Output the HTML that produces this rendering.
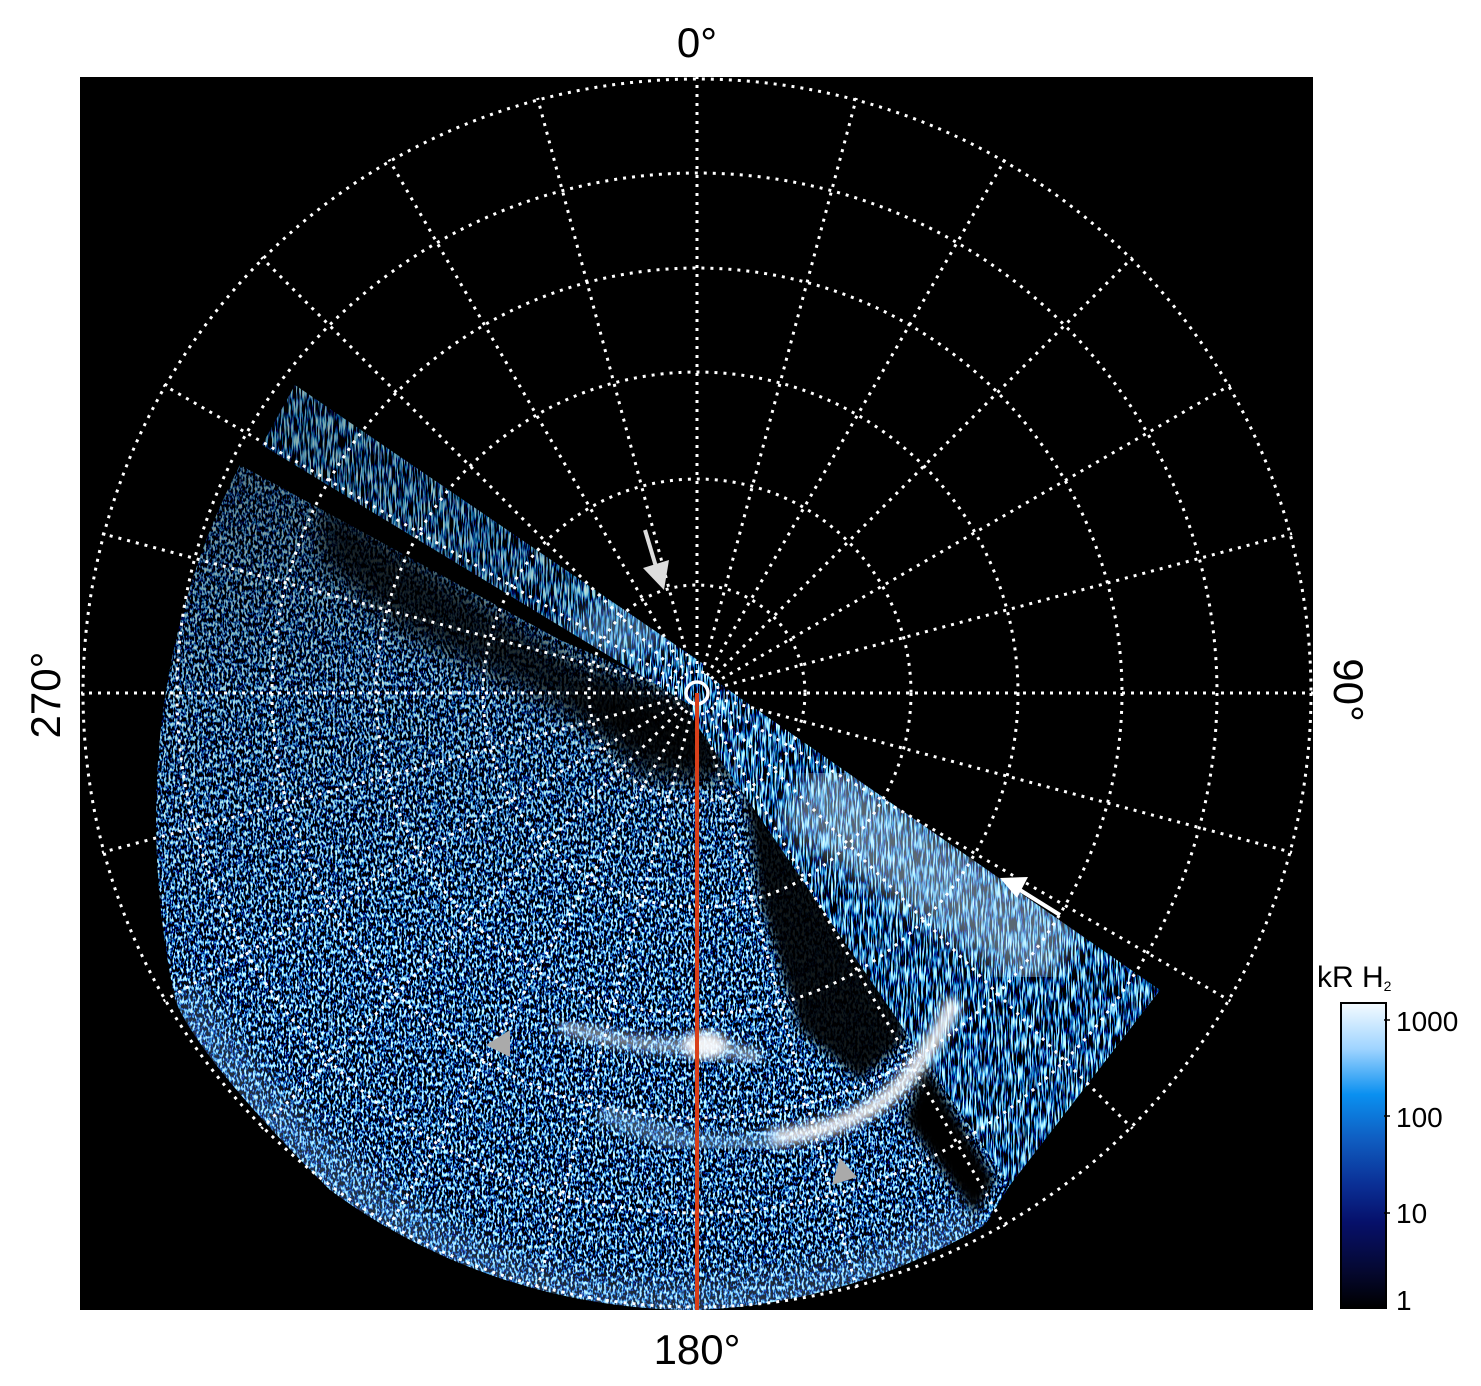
<!DOCTYPE html>
<html><head><meta charset="utf-8"><style>
html,body{margin:0;padding:0;background:#fff;}
svg{display:block;}
text{font-family:"Liberation Sans",Arial,sans-serif;fill:#000;}
</style></head><body>
<svg width="1481" height="1386" viewBox="0 0 1481 1386" xmlns="http://www.w3.org/2000/svg">
<defs>
<filter id="nz" x="0" y="0" width="100%" height="100%">
<feTurbulence type="fractalNoise" baseFrequency="0.45 0.22" numOctaves="2" seed="3"/>
<feColorMatrix type="matrix" values="3 0 0 0 -1.6  5 0 0 0 -2.45  6 0 0 0 -2.65  0 0 0 0 1"/>
</filter>
<filter id="nz2" x="0" y="0" width="100%" height="100%">
<feTurbulence type="fractalNoise" baseFrequency="0.6 0.06" numOctaves="2" seed="7"/>
<feColorMatrix type="matrix" values="3 0 0 0 -1.6  5 0 0 0 -2.4  6 0 0 0 -2.6  0 0 0 0 1"/>
</filter>
<filter id="bl"><feGaussianBlur stdDeviation="12"/></filter>
<filter id="bl2"><feGaussianBlur stdDeviation="5"/></filter>
<clipPath id="sq"><rect x="80" y="77" width="1233" height="1233"/></clipPath>
<clipPath id="lower">
<path d="M240,465 L560,640 L700,700 L1160,990 L1010,1185 L985,1225 A617,617 0 0 1 697,1310 A617,617 0 0 1 330,1190 Q200,1060 175,1000 Q150,880 158,760 Q170,600 240,465 Z"/>
</clipPath>
<clipPath id="bandL"><path d="M295,385 L705,665 L690,705 L262,445 Z"/></clipPath>
<clipPath id="bandR"><path d="M700,670 L1160,990 L1010,1185 L690,715 Z"/></clipPath>
<linearGradient id="cb" x1="0" y1="0" x2="0" y2="1">
<stop offset="0" stop-color="#f4fbff"/>
<stop offset="0.15" stop-color="#9fd4ff"/>
<stop offset="0.3" stop-color="#0a90f0"/>
<stop offset="0.45" stop-color="#0f5cc0"/>
<stop offset="0.6" stop-color="#0a2e94"/>
<stop offset="0.72" stop-color="#06106a"/>
<stop offset="0.88" stop-color="#050830"/>
<stop offset="1" stop-color="#000"/>
</linearGradient>
<linearGradient id="lg" x1="0" y1="0" x2="0.3" y2="1">
<stop offset="0" stop-color="#000" stop-opacity="0.55"/>
<stop offset="0.5" stop-color="#000" stop-opacity="0.15"/>
<stop offset="1" stop-color="#000" stop-opacity="0"/>
</linearGradient>
<linearGradient id="lgb" x1="0" y1="0" x2="1" y2="0.7">
<stop offset="0" stop-color="#000" stop-opacity="0.35"/>
<stop offset="0.7" stop-color="#000" stop-opacity="0.2"/>
<stop offset="1" stop-color="#000" stop-opacity="0"/>
</linearGradient>
</defs>

<rect x="80" y="77" width="1233" height="1233" fill="#000"/>
<g clip-path="url(#sq)">
 <g clip-path="url(#lower)">
  <rect x="80" y="380" width="1233" height="930" filter="url(#nz)"/>
  <rect x="80" y="440" width="1233" height="500" fill="url(#lg)"/>
  <path d="M320,500 L560,650 L690,700 L760,780 L690,770 L560,710 L400,630 L320,560 Z" fill="#000" opacity="0.8" filter="url(#bl)"/>
  <path d="M560,690 L700,700 L720,780 L640,780 Z" fill="#000" opacity="0.8" filter="url(#bl)"/>
  <path d="M740,760 L830,820 L900,950 L905,1040 L860,1080 L800,1030 L760,900 Z" fill="#000" opacity="0.9" filter="url(#bl2)"/>
  <path d="M925,1065 L995,1180 L975,1215 L905,1120 Z" fill="#000" filter="url(#bl2)"/>
  <path d="M170,1000 Q400,1330 697,1310 Q880,1300 980,1230" stroke="#8cc8ff" stroke-width="60" fill="none" opacity="0.25" filter="url(#bl)"/>
 </g>
 <g clip-path="url(#bandL)">
  <rect x="250" y="380" width="470" height="340" filter="url(#nz2)"/>
  <rect x="250" y="380" width="470" height="340" fill="url(#lgb)"/>
  <ellipse cx="620" cy="630" rx="50" ry="25" fill="#8fd0ff" opacity="0.4" filter="url(#bl)"/>
 </g>
 <g clip-path="url(#bandR)">
  <rect x="680" y="660" width="490" height="530" filter="url(#nz2)"/>
  <path d="M800,790 L1060,960" stroke="#c8e8ff" stroke-width="80" opacity="0.45" filter="url(#bl)"/>
 </g>
 <path d="M560,1025 Q640,1050 700,1045 Q740,1050 760,1060" stroke="#d8eeff" stroke-width="14" fill="none" opacity="0.6" filter="url(#bl2)"/>
 <ellipse cx="705" cy="1045" rx="22" ry="14" fill="#fff" opacity="0.9" filter="url(#bl2)"/>
 <path d="M770,1138 Q860,1130 905,1080 Q935,1045 955,1000" stroke="#fff" stroke-width="16" fill="none" opacity="0.9" filter="url(#bl2)"/>
 <path d="M600,1110 Q700,1160 780,1138" stroke="#9fd4ff" stroke-width="20" fill="none" opacity="0.4" filter="url(#bl2)"/>

 <g stroke="#fff" stroke-width="3" fill="none" stroke-dasharray="3 6">
  <circle cx="697" cy="693" r="108"/>
  <circle cx="697" cy="693" r="214"/>
  <circle cx="697" cy="693" r="321"/>
  <circle cx="697" cy="693" r="425"/>
  <circle cx="697" cy="693" r="520"/>
  <circle cx="697" cy="693" r="614"/>
  <g id="sp">
   <line x1="697" y1="673" x2="697" y2="77"/>
   <line x1="697" y1="673" x2="697" y2="77" transform="rotate(15 697 693)"/>
   <line x1="697" y1="673" x2="697" y2="77" transform="rotate(30 697 693)"/>
   <line x1="697" y1="673" x2="697" y2="77" transform="rotate(45 697 693)"/>
   <line x1="697" y1="673" x2="697" y2="77" transform="rotate(60 697 693)"/>
   <line x1="697" y1="673" x2="697" y2="77" transform="rotate(75 697 693)"/>
  </g>
  <use href="#sp" transform="rotate(90 697 693)"/>
  <use href="#sp" transform="rotate(180 697 693)"/>
  <use href="#sp" transform="rotate(270 697 693)"/>
 </g>
 <circle cx="697" cy="693" r="11" stroke="#fff" stroke-width="3.5" fill="none"/>
 <line x1="697" y1="693" x2="697" y2="1310" stroke="#d8401a" stroke-width="4"/>

 <line x1="645" y1="530" x2="657" y2="570" stroke="#ddd" stroke-width="4"/>
 <polygon points="643,568 669,560 664,590" fill="#ddd"/>
 <line x1="1060" y1="915" x2="1020" y2="890" stroke="#fff" stroke-width="4"/>
 <polygon points="1000,878 1028,877 1017,898" fill="#fff"/>
 <polygon points="486,1045 510,1030 510,1057" fill="#aaa"/>
 <polygon points="832,1185 840,1158 857,1177" fill="#aaa"/>
</g>

<text x="697" y="57" font-size="42" text-anchor="middle">0°</text>
<text x="697" y="1364" font-size="42" text-anchor="middle">180°</text>
<text transform="translate(60,695) rotate(-90)" font-size="42" text-anchor="middle">270°</text>
<text transform="translate(1334,690) rotate(90)" font-size="42" text-anchor="middle">90°</text>

<text x="1317" y="987" font-size="30">kR H<tspan font-size="14" dy="4">2</tspan></text>
<rect x="1341" y="1003" width="45" height="305" fill="url(#cb)" stroke="#000" stroke-width="2"/>
<g stroke="#000" stroke-width="1.5">
 <line x1="1384" y1="1020" x2="1390" y2="1020"/>
 <line x1="1384" y1="1116" x2="1390" y2="1116"/>
 <line x1="1384" y1="1213" x2="1390" y2="1213"/>
</g>
<text x="1396" y="1031" font-size="28">1000</text>
<text x="1396" y="1127" font-size="28">100</text>
<text x="1396" y="1223" font-size="28">10</text>
<text x="1396" y="1310" font-size="28">1</text>
</svg>
</body></html>
